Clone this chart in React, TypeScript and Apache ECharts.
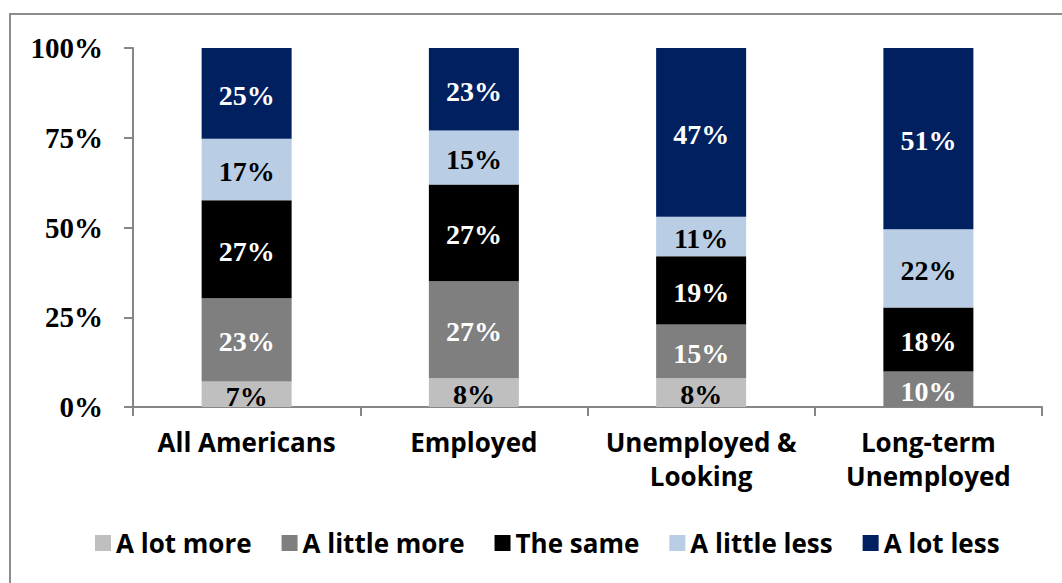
import React, { useEffect, useRef } from "react";
import * as echarts from "echarts";

const categories = ["All Americans", "Employed", "Unemployed &\nLooking", "Long-term\nUnemployed"];
const seriesNames = ["A lot more", "A little more", "The same", "A little less", "A lot less"];
const aLotMore = [7, 8, 8, 0];
const aLittleMore = [23, 27, 15, 10];
const theSame = [27, 27, 19, 18];
const aLittleLess = [17, 15, 11, 22];
const aLotLess = [25, 23, 47, 51];
const yTicks = [0, 25, 50, 75, 100];

const colors = ["#bfbfbf", "#7f7f7f", "#000000", "#b9cde5", "#002060"];
const labelColors = ["#000000", "#ffffff", "#ffffff", "#000000", "#ffffff"];

const SERIF = "'Liberation Serif', 'Times New Roman', serif";
const SANS = "'Open Sans', 'Noto Sans', sans-serif";

export default function App() {
  const ref = useRef<HTMLDivElement>(null);
  useEffect(() => {
    if (!ref.current) return;
    const chart = echarts.init(ref.current, undefined, { renderer: "svg" });
    const all = [aLotMore, aLittleMore, theSame, aLittleLess, aLotLess];
    const totals = categories.map((_, i) => all.reduce((s, arr) => s + arr[i], 0));
    const series = all.map((arr, k) => ({
      name: seriesNames[k],
      type: "bar",
      stack: "total",
      barWidth: 90,
      itemStyle: { color: colors[k] },
      label: {
        show: true,
        position: "inside",
        offset: [0, 2],
        color: labelColors[k],
        fontFamily: SERIF,
        fontWeight: "bold",
        fontSize: 28,
        formatter: (p: any) => (arr[p.dataIndex] > 0 ? arr[p.dataIndex] + "%" : ""),
      },
      data: arr.map((v, i) => (v / totals[i]) * 100),
    }));
    chart.setOption({
      animation: false,
      graphic: [
        {
          type: "rect",
          shape: { x: 10, y: 14, width: 1070, height: 600 },
          style: { fill: "none", stroke: "#8c8c8c", lineWidth: 2 },
          silent: true,
        },
      ],
      grid: { left: 133, right: 20, top: 48, bottom: 176 },
      legend: {
        data: seriesNames,
        left: 95,
        top: 530,
        padding: 0,
        itemWidth: 16,
        itemHeight: 16,
        itemGap: 30,
        icon: "rect",
        textStyle: { fontFamily: SANS, fontWeight: "bold", fontSize: 26, color: "#000" },
      },
      xAxis: {
        type: "category",
        data: categories,
        axisLine: { lineStyle: { color: "#868686", width: 2 } },
        axisTick: { show: true, alignWithLabel: false, length: 9, lineStyle: { color: "#868686", width: 2 } },
        axisLabel: {
          interval: 0,
          margin: 18,
          fontFamily: SANS,
          fontWeight: "bold",
          fontSize: 26,
          lineHeight: 34,
          color: "#000",
        },
      },
      yAxis: {
        type: "value",
        min: yTicks[0],
        max: yTicks[yTicks.length - 1],
        interval: 25,
        splitLine: { show: false },
        axisLine: { show: true, lineStyle: { color: "#868686", width: 2 } },
        axisTick: { show: true, length: 9, lineStyle: { color: "#868686", width: 2 } },
        axisLabel: {
          margin: 30,
          formatter: "{value}%",
          fontFamily: SERIF,
          fontWeight: "bold",
          fontSize: 29,
          color: "#000",
        },
      },
      series,
    });
    return () => chart.dispose();
  }, []);
  return (
    <div
      ref={ref}
      style={{ position: "fixed", left: 0, top: 0, width: 1062, height: 583, background: "#fff" }}
    />
  );
}
